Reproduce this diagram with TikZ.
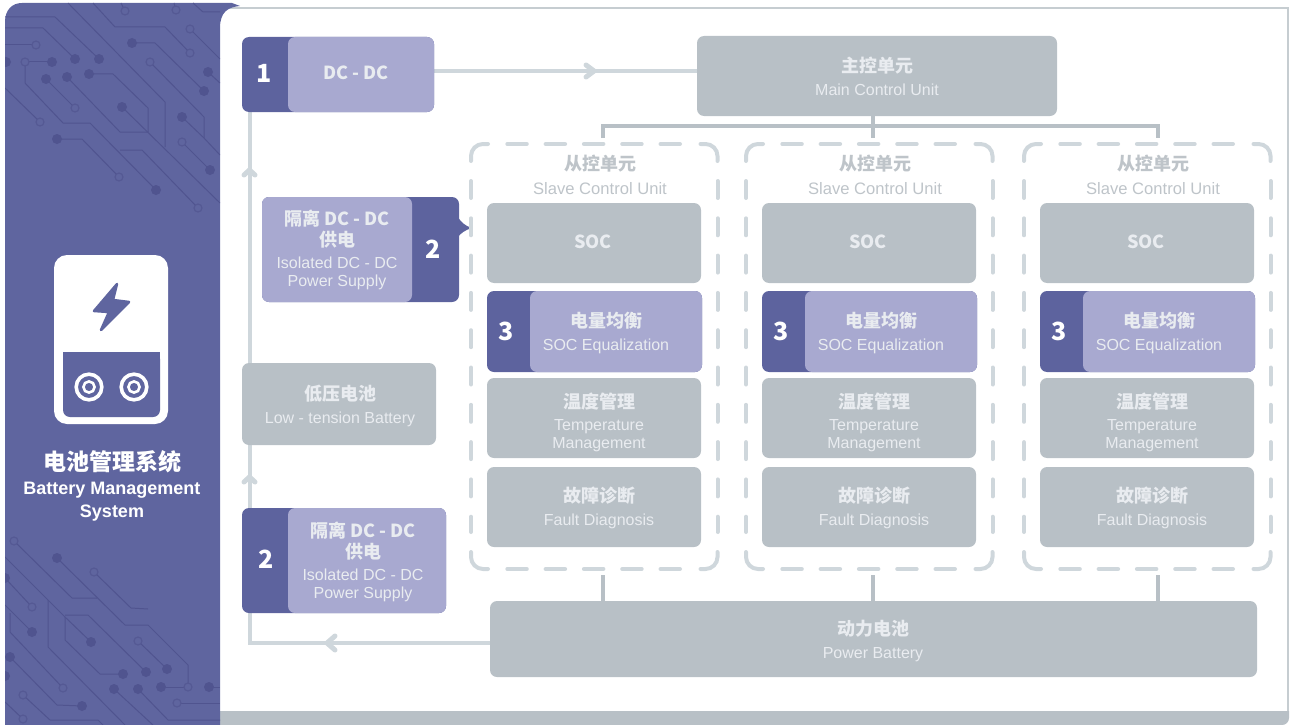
\documentclass[tikz,border=0pt]{standalone}
\usepackage{fontspec}
\setmainfont{Liberation Sans}
\newfontfamily\cjk{Noto Sans CJK SC}
\usetikzlibrary{backgrounds}

\definecolor{sidebar}{HTML}{5F659F}
\definecolor{tracec}{HTML}{50548F}
\definecolor{darktag}{HTML}{5D639E}
\definecolor{lighttag}{HTML}{A8A9D0}
\definecolor{greybox}{HTML}{B8C0C6}
\definecolor{flowc}{HTML}{CFD7DC}
\definecolor{slavetext}{HTML}{BEC4C9}
\definecolor{subtext}{HTML}{E9ECF0}

\def\zh#1{{\cjk\bfseries\fontsize{18}{20}\selectfont #1}}

\tikzset{
	anybox/.style={inner sep=0pt, outer sep=0pt, rounded corners=7pt},
	greyb/.style={anybox, fill=greybox},
	darkb/.style={anybox, fill=darktag},
	lightb/.style={anybox, fill=lighttag},
	boxtext/.style={inner sep=0pt, align=center, text=subtext, font=\fontsize{16}{18}\selectfont},
	numtext/.style={inner sep=0pt, text=white, font=\cjk\bfseries\fontsize{25}{28}\selectfont},
	cornerline/.style={draw=flowc, line width=4pt, line cap=round, rounded corners=12pt},
	dashwide/.style={draw=flowc, line width=4pt, line cap=round, dash pattern=on 19.5pt off 18.8pt},
	dashtall/.style={draw=flowc, line width=4pt, line cap=round, dash pattern=on 17pt off 20.3pt},
	flowline/.style={draw=flowc, line width=4pt},
	flowhead/.style={draw=flowc, line width=5pt, line cap=round, line join=round},
	treeline/.style={draw=greybox, line width=4pt},
	trace/.style={draw=tracec, line width=1pt},
	pad/.style={fill=tracec},
	openpad/.style={draw=tracec!70!sidebar, line width=1.2pt, fill=sidebar}
}

\def\slavecol#1#2{
	\draw[cornerline] (#2-16, 161) -- (#2-16, 144) -- (#2+1, 144);
	\draw[cornerline] (#2+213.5, 144) -- (#2+230.5, 144) -- (#2+230.5, 161);
	\draw[cornerline] (#2-16, 552) -- (#2-16, 569) -- (#2+1, 569);
	\draw[cornerline] (#2+213.5, 569) -- (#2+230.5, 569) -- (#2+230.5, 552);
	\draw[dashwide] (#2+20.3, 144) -- (#2+194.5, 144);
	\draw[dashwide] (#2+20.3, 569) -- (#2+194.5, 569);
	\draw[dashtall] (#2-16, 181) -- (#2-16, 532);
	\draw[dashtall] (#2+230.5, 181) -- (#2+230.5, 532);
	\node[boxtext, text=slavetext, font=\fontsize{16.6}{18}\selectfont] (slavetitle#1) at (#2+113, 174.5) {\zh{从控单元}\\[6pt] Slave Control Unit};
	\node[greyb, minimum width=214pt, minimum height=80pt] (soc#1) at (#2+107, 243) {};
	\node[boxtext] (soctext#1) at (#2+106, 242) {\zh{SOC}};
	\node[darkb, minimum width=215pt, minimum height=81pt] (eqdark#1) at (#2+107.5, 331.5) {};
	\node[lightb, minimum width=172pt, minimum height=81pt] (eq#1) at (#2+129, 331.5) {};
	\node[numtext] (eqnum#1) at (#2+19, 331) {3};
	\node[boxtext] (eqtext#1) at (#2+119, 333) {\zh{电量均衡}\\[5pt] SOC Equalization};
	\node[greyb, minimum width=214pt, minimum height=80pt] (temp#1) at (#2+107, 418) {};
	\node[boxtext] (temptext#1) at (#2+112, 422) {\zh{温度管理}\\[4pt] Temperature\\ Management};
	\node[greyb, minimum width=214pt, minimum height=80pt] (fault#1) at (#2+107, 507) {};
	\node[boxtext] (faulttext#1) at (#2+112, 508) {\zh{故障诊断}\\[5pt] Fault Diagnosis};
}

\begin{document}
\begin{tikzpicture}[x=1pt, y=-1pt]
	\useasboundingbox (0, 0) rectangle (1290, 725);
	%%%%% frame %%%%%
	\draw[draw=greybox!80!white, line width=2pt] (230, 8) -- (1288, 8) -- (1288, 715);
	\fill[greybox] (220, 711) -- (1289, 711) -- (1289, 718) arc (0:90:7) -- (220, 725) -- cycle;

	%%%%% sidebar %%%%%
	\fill[sidebar] (5, 22) .. controls (5, 10) and (12, 3) .. (22, 3) -- (232, 3) -- (240, 6)
		.. controls (228, 7) and (220, 12) .. (220, 28) -- (220, 725) -- (5, 725) -- cycle;
	\begin{scope}
		\clip (5, 3) rectangle (220, 725);
		% upper traces
		\draw[trace] (5, 17) -- (55, 17) -- (99, 59);
		\draw[trace] (5, 28) -- (43, 28) -- (75, 59);
		\draw[trace] (5, 45) -- (36, 45);
		\draw[trace] (25, 62) -- (52, 62);
		\draw[trace] (25, 62) -- (25, 83) -- (63, 123) -- (90, 123) -- (156, 190);
		\draw[trace] (46, 79) -- (75, 108);
		\draw[trace] (89, 74) -- (113, 74) -- (148, 108) -- (148, 132) -- (120, 132) -- (67, 77);
		\draw[trace] (122, 107) -- (220, 203);
		\draw[trace] (68, 3) -- (165, 102) -- (165, 147);
		\draw[trace] (93, 3) -- (115, 27) -- (165, 27) -- (190, 53);
		\draw[trace] (121, 3) -- (125, 11);
		\draw[trace] (174, 3) -- (176, 10);
		\draw[trace] (193, 3) -- (203, 12) -- (220, 12);
		\draw[trace] (190, 29) -- (220, 59);
		\draw[trace] (132, 43) -- (155, 43) -- (204, 91);
		\draw[trace] (150, 62) -- (204, 117) -- (204, 138) -- (220, 155);
		\draw[trace] (208, 72) -- (220, 83);
		\draw[trace] (182, 117) -- (204, 138);
		\draw[trace] (182, 142) -- (210, 170);
		\draw[trace] (5, 88) -- (40, 122);
		\draw[trace] (57, 139) -- (82, 139) -- (119, 177);
		\draw[trace] (120, 150) -- (142, 150) -- (198, 208);
		\foreach \px/\py in {6/62, 52/62, 75/59, 99/59, 46/79, 67/77, 89/74, 132/43, 208/72, 204/91, 122/107, 182/117, 57/139, 210/170, 156/190}
			\fill[pad] (\px, \py) circle (5);
		\foreach \px/\py in {36/45, 25/62, 125/11, 176/10, 190/29, 190/53, 150/62, 75/108, 40/122, 182/142, 119/177, 198/208}
			\filldraw[openpad] (\px, \py) circle (4);
		% lower traces
		\draw[trace] (14, 541) -- (72, 598) -- (97, 598);
		\draw[trace] (5, 557) -- (65, 617);
		\draw[trace] (48, 600) -- (48, 647) -- (125, 725);
		\draw[trace] (65, 615) -- (88, 615) -- (146, 672);
		\draw[trace] (65, 617) -- (65, 640) -- (100, 674) -- (123, 674);
		\draw[trace] (65, 617) -- (91, 642);
		\draw[trace] (57, 558) -- (125, 625) -- (148, 625) -- (188, 665) -- (188, 687);
		\draw[trace] (94, 572) -- (131, 608) -- (148, 609);
		\draw[trace] (138, 641) -- (167, 669);
		\draw[trace] (161, 687) -- (188, 687);
		\draw[trace] (209, 687) -- (220, 687);
		\draw[trace] (114, 689) -- (153, 725);
		\draw[trace] (138, 689) -- (168, 720) -- (220, 720);
		\draw[trace] (177, 703) -- (220, 703);
		\draw[trace] (5, 578) -- (32, 607);
		\draw[trace] (5, 605) -- (32, 632);
		\draw[trace] (10, 613) -- (10, 632) -- (63, 688);
		\draw[trace] (10, 657) -- (57, 705) -- (82, 706);
		\draw[trace] (23, 695) -- (50, 720) -- (98, 720) -- (103, 725);
		\draw[trace] (5, 702) -- (23, 719);
		\foreach \px/\py in {57/558, 5/578, 32/632, 91/642, 10/657, 146/672, 123/674, 5/676, 167/669, 161/687, 209/687, 114/689, 138/689, 82/706}
			\fill[pad] (\px, \py) circle (5);
		\foreach \px/\py in {14/541, 94/572, 32/607, 138/641, 188/687, 63/688, 23/695, 177/703, 23/719}
			\filldraw[openpad] (\px, \py) circle (4);
	\end{scope}

	%%%%% battery icon %%%%%
	\fill[white, rounded corners=13pt] (54, 255) rectangle (168, 424);
	\fill[sidebar, rounded corners=7pt] (63, 352) -- (160, 352) -- (160, 417) -- (63, 417) -- cycle;
	\fill[sidebar] (63, 352) rectangle (160, 370);
	\filldraw[draw=sidebar, fill=sidebar, line width=2.5pt, line join=round] (117, 284) -- (94, 311) -- (109, 312) -- (101, 330) -- (129, 302) -- (113, 300) -- cycle;
	\draw[white, line width=3.6pt] (89, 387) circle (12.8);
	\draw[white, line width=3.6pt] (134, 387) circle (12.8);
	\draw[white, line width=2.6pt] (89, 387) circle (5.6);
	\draw[white, line width=2.6pt] (134, 387) circle (5.6);
	\node[inner sep=0pt, text=white, font=\cjk\bfseries\fontsize{23}{26}\selectfont] (bmszh) at (112, 462) {电池管理系统};
	\node[inner sep=0pt, align=center, text=white, font=\bfseries\fontsize{18}{23}\selectfont] (bmsen) at (112, 502) {Battery Management\\ System};

	%%%%% left column %%%%%
	\node[darkb, minimum width=192pt, minimum height=75pt] (dcdc) at (338, 74.5) {};
	\node[lightb, minimum width=146pt, minimum height=75pt] (dcdclight) at (361, 74.5) {};
	\node[numtext] (dcdcnum) at (264, 73) {1};
	\node[boxtext] (dcdctext) at (356, 73) {\zh{DC - DC}};

	\fill[darktag] (457, 216) .. controls (461, 222) and (465, 226) .. (472, 228) .. controls (465, 230) and (461, 233) .. (457, 238) -- cycle;
	\node[darkb, minimum width=197pt, minimum height=105pt] (isotop) at (360.5, 249.5) {};
	\node[lightb, minimum width=150pt, minimum height=105pt] (isotoplight) at (337, 249.5) {};
	\node[numtext] (isotopnum) at (433, 249) {2};
	\node[boxtext] (isotoptext) at (337, 249.5) {\zh{隔离 DC - DC}\\[3pt] \zh{供电}\\[4pt] Isolated DC - DC\\ Power Supply};

	\node[greyb, minimum width=194pt, minimum height=82pt] (lowbat) at (339, 404) {};
	\node[boxtext] (lowbattext) at (340, 406) {\zh{低压电池}\\[5pt] Low - tension Battery};

	\node[darkb, minimum width=204pt, minimum height=105pt] (isolow) at (344, 560.5) {};
	\node[lightb, minimum width=158pt, minimum height=105pt] (isolowlight) at (367, 560.5) {};
	\node[numtext] (isolownum) at (266, 559) {2};
	\node[boxtext] (isolowtext) at (363, 561.5) {\zh{隔离 DC - DC}\\[3pt] \zh{供电}\\[4pt] Isolated DC - DC\\ Power Supply};

	%%%%% control units %%%%%
	\node[greyb, minimum width=360pt, minimum height=80pt] (main) at (877, 76) {};
	\node[boxtext] (maintext) at (877, 76.5) {\zh{主控单元}\\[5pt] Main Control Unit};

	\slavecol{a}{487}
	\slavecol{b}{762}
	\slavecol{c}{1040}

	\node[greyb, minimum width=767pt, minimum height=76pt] (power) at (873.5, 639) {};
	\node[boxtext] (powertext) at (873, 641) {\zh{动力电池}\\[5pt] Power Battery};

	%%%%% connectors %%%%%
	\coordinate (dcout) at (dcdc.east |- 0, 71);
	\coordinate (mainin) at (main.west |- 0, 71);
	\coordinate (dcin) at (249.5, 112);
	\coordinate (corner) at (249.5, 643);
	\coordinate (powerout) at (power.west |- 0, 643);
	\coordinate (mainout) at (873, 116);
	\coordinate (tapa) at (603, 138);
	\coordinate (tapb) at (873, 138);
	\coordinate (tapc) at (1158, 138);
	\coordinate (feeda) at (603, 575);
	\coordinate (feedb) at (873, 575);
	\coordinate (feedc) at (1158, 575);
	\begin{scope}[on background layer]
		\draw[flowline] (dcout) -- (mainin);
		\draw[flowhead] (586, 65) -- (594, 71) -- (586, 77);
		\draw[flowline] (powerout) -- (corner) -- (dcin);
		\draw[flowhead] (335, 636) -- (327, 643) -- (335, 650);
		\draw[flowhead] (244, 175) -- (249.5, 170) -- (255, 175);
		\draw[flowhead] (244, 482) -- (249.5, 477) -- (255, 482);
		\draw[treeline] (tapa) -- (603, 126) -- (1158, 126) -- (tapc);
		\draw[treeline] (mainout) -- (tapb);
		\draw[treeline] (feeda) -- (feeda |- power.north);
		\draw[treeline] (feedb) -- (feedb |- power.north);
		\draw[treeline] (feedc) -- (feedc |- power.north);
	\end{scope}
\end{tikzpicture}
\end{document}
